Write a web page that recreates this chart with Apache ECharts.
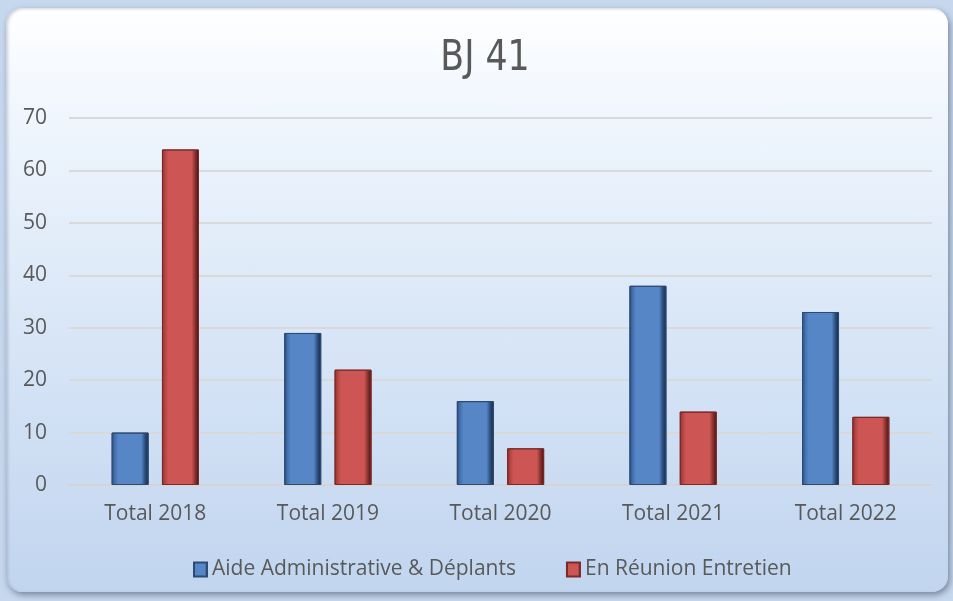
<!DOCTYPE html>
<html>
<head>
<meta charset="utf-8">
<script src="https://cdn.jsdelivr.net/npm/echarts@6/dist/echarts.min.js"></script>
<style>
  html, body { margin: 0; padding: 0; }
  body { width: 953px; height: 601px; background: #c6d8ee; position: relative; overflow: hidden; }
  .card {
    position: absolute; left: 6px; top: 8px; width: 942px; height: 584px;
    border-radius: 16px;
    background: linear-gradient(to bottom, #ffffff 0%, #eef5fd 20%, #d6e4f6 60%, #c1d5ef 100%);
    box-shadow: 2px 3px 6px rgba(60, 70, 90, 0.55), inset 2px 1px 3px rgba(120,130,150,0.35);
  }
  #chart { position: absolute; left: 0; top: 0; width: 953px; height: 601px; }
</style>
</head>
<body>
<div class="card"></div>
<div id="chart"></div>
<script>
const categories = ['Total 2018', 'Total 2019', 'Total 2020', 'Total 2021', 'Total 2022']
const aideValues = [10, 29, 16, 38, 33]
const reunionValues = [64, 22, 7, 14, 13]
const seriesNames = ['Aide Administrative & Déplants', 'En Réunion Entretien']

// bevelled look: dark edges, flat middle
function bevel(dark, mid, base, deep) {
  return new echarts.graphic.LinearGradient(0, 0, 1, 0, [
    { offset: 0, color: dark },
    { offset: 0.1, color: mid },
    { offset: 0.18, color: base },
    { offset: 0.8, color: base },
    { offset: 0.9, color: dark },
    { offset: 1, color: deep }
  ])
}

const chart = echarts.init(document.getElementById('chart'))
const font = 'Open Sans, Noto Sans, sans-serif'

chart.setOption({
  backgroundColor: 'transparent',
  // narrow title, squeezed horizontally
  graphic: [{
    type: 'text',
    x: 485,
    y: 59,
    scaleX: 0.92,
    style: {
      text: 'BJ 41',
      fontFamily: 'DejaVu Sans Condensed, Open Sans, sans-serif',
      fontSize: 42,
      fill: '#595959',
      align: 'center',
      verticalAlign: 'middle'
    }
  }],
  legend: {
    bottom: 16,
    left: 188,
    itemWidth: 13,
    itemHeight: 14,
    itemGap: 50,
    icon: 'rect',
    textStyle: { fontFamily: font, fontSize: 21, color: '#595959' },
    data: seriesNames
  },
  grid: { left: 69, right: 21, top: 118, bottom: 116, containLabel: false },
  xAxis: {
    type: 'category',
    data: categories,
    axisTick: { show: false },
    axisLine: { lineStyle: { color: '#d4d4d4', width: 2 } },
    axisLabel: { fontFamily: font, fontSize: 21, color: '#595959', margin: 19 }
  },
  yAxis: {
    type: 'value',
    min: 0,
    max: 70,
    interval: 10,
    axisLine: { show: false },
    axisTick: { show: false },
    axisLabel: { fontFamily: font, fontSize: 21, color: '#595959', margin: 22 },
    splitLine: { lineStyle: { color: '#d9d9d9', width: 2 } }
  },
  series: [
    {
      name: seriesNames[0],
      type: 'bar',
      data: aideValues,
      barWidth: 37,
      barGap: '36%',
      itemStyle: {
        color: bevel('#2c4f7f', '#4574b3', '#5686c6', '#16263d'),
        borderColor: '#2c4a73',
        borderWidth: 1
      }
    },
    {
      name: seriesNames[1],
      type: 'bar',
      data: reunionValues,
      barWidth: 37,
      itemStyle: {
        color: bevel('#8a302e', '#bb4846', '#cd5654', '#3d1312'),
        borderColor: '#7a2a28',
        borderWidth: 1
      }
    }
  ]
})
</script>
</body>
</html>
